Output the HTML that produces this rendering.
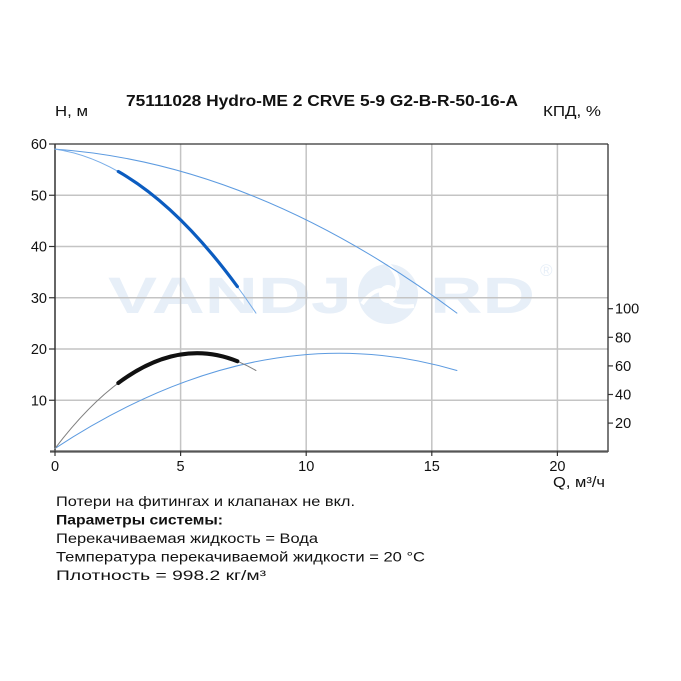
<!DOCTYPE html>
<html><head><meta charset="utf-8"><style>
html,body{margin:0;padding:0;background:#fff;}
svg{display:block;}
text{font-family:"Liberation Sans",sans-serif;fill:#111;}
</style></head><body>
<svg width="681" height="681" viewBox="0 0 681 681" xmlns="http://www.w3.org/2000/svg">
<rect x="0" y="0" width="681" height="681" fill="#fff"/>
<!-- watermark -->
<g fill="#e7eff8">
<text x="108" y="313" font-size="51" font-weight="bold" textLength="244" lengthAdjust="spacingAndGlyphs" style="fill:#e7eff8">VANDJ</text>
<text x="430" y="313" font-size="51" font-weight="bold" textLength="105" lengthAdjust="spacingAndGlyphs" style="fill:#e7eff8">RD</text>
<circle cx="388" cy="294" r="30"/>
<text x="540" y="276" font-size="17" style="fill:#e7eff8">®</text>
</g>
<g fill="none" stroke="#fff" stroke-width="4">
<circle cx="388" cy="294" r="9" fill="#fff" stroke="none"/>
<path d="M388 264 Q402 278 396 290"/>
<path d="M414 306 Q396 308 390 302"/>
<path d="M362 304 Q372 290 382 290"/>
</g>
<!-- grid -->
<g stroke="#c4c4c4" stroke-width="1.5">
<line x1="55" y1="195.25" x2="608" y2="195.25"/>
<line x1="55" y1="246.5" x2="608" y2="246.5"/>
<line x1="55" y1="297.75" x2="608" y2="297.75"/>
<line x1="55" y1="349" x2="608" y2="349"/>
<line x1="55" y1="400.25" x2="608" y2="400.25"/>
<line x1="180.6" y1="144" x2="180.6" y2="451.5"/>
<line x1="306.2" y1="144" x2="306.2" y2="451.5"/>
<line x1="431.8" y1="144" x2="431.8" y2="451.5"/>
<line x1="557.4" y1="144" x2="557.4" y2="451.5"/>
</g>
<!-- frame -->
<line x1="55" y1="144" x2="608" y2="144" stroke="#333" stroke-width="1.2"/>
<line x1="608" y1="144" x2="608" y2="452" stroke="#333" stroke-width="1.3"/>
<line x1="55" y1="144" x2="55" y2="452" stroke="#333" stroke-width="1.5"/>
<line x1="50" y1="451.5" x2="608" y2="451.5" stroke="#555" stroke-width="2.2"/>
<!-- ticks -->
<g stroke="#333" stroke-width="1.2">
<line x1="49" y1="144" x2="55" y2="144"/>
<line x1="49" y1="195.25" x2="55" y2="195.25"/>
<line x1="49" y1="246.5" x2="55" y2="246.5"/>
<line x1="49" y1="297.75" x2="55" y2="297.75"/>
<line x1="49" y1="349" x2="55" y2="349"/>
<line x1="49" y1="400.25" x2="55" y2="400.25"/>
<line x1="55" y1="451" x2="55" y2="456"/>
<line x1="180.6" y1="451" x2="180.6" y2="456"/>
<line x1="306.2" y1="451" x2="306.2" y2="456"/>
<line x1="431.8" y1="451" x2="431.8" y2="456"/>
<line x1="557.4" y1="451" x2="557.4" y2="456"/>
<line x1="608" y1="423.1" x2="613" y2="423.1"/>
<line x1="608" y1="394.5" x2="613" y2="394.5"/>
<line x1="608" y1="365.9" x2="613" y2="365.9"/>
<line x1="608" y1="337.3" x2="613" y2="337.3"/>
<line x1="608" y1="308.7" x2="613" y2="308.7"/>
</g>
<!-- curves -->
<g fill="none" stroke-linecap="round">
<path d="M55 149.125 Q255.96 163.35 456.92 313.10" stroke="#5d9be0" stroke-width="1"/>
<path d="M55 149.125 Q155.48 163.35 255.96 313.11" stroke="#7aaee8" stroke-width="1"/>
<path d="M55 448.41 C188.97 360.47 322.95 330.75 456.92 370.53" stroke="#5d9be0" stroke-width="1"/>
<path d="M55 448.41 C121.99 360.47 188.97 330.75 255.96 370.53" stroke="#808080" stroke-width="1"/>
<path d="M118.30 171.54 Q177.83 205.27 237.37 286.56" stroke="#0b5cc0" stroke-width="3.2"/>
<path d="M118.30 382.99 C157.99 353.28 197.68 345.25 237.37 361.26" stroke="#111" stroke-width="4"/>
</g>
<!-- labels -->
<g font-size="14.5">
<text x="47" y="149" text-anchor="end">60</text>
<text x="47" y="200.25" text-anchor="end">50</text>
<text x="47" y="251.5" text-anchor="end">40</text>
<text x="47" y="302.75" text-anchor="end">30</text>
<text x="47" y="354" text-anchor="end">20</text>
<text x="47" y="405.25" text-anchor="end">10</text>
<text x="55" y="471" text-anchor="middle">0</text>
<text x="180.6" y="471" text-anchor="middle">5</text>
<text x="306.2" y="471" text-anchor="middle">10</text>
<text x="431.8" y="471" text-anchor="middle">15</text>
<text x="557.4" y="471" text-anchor="middle">20</text>
<text x="615" y="428.1">20</text>
<text x="615" y="399.5">40</text>
<text x="615" y="370.9">60</text>
<text x="615" y="342.3">80</text>
<text x="615" y="313.7">100</text>
<text x="553" y="487" textLength="52" lengthAdjust="spacingAndGlyphs">Q, м³/ч</text>
<text x="55" y="116" textLength="33" lengthAdjust="spacingAndGlyphs">H, м</text>
<text x="543" y="116" textLength="58" lengthAdjust="spacingAndGlyphs">КПД, %</text>
</g>
<text x="126" y="106" font-size="16" font-weight="bold" textLength="392" lengthAdjust="spacingAndGlyphs">75111028 Hydro-ME 2 CRVE 5-9 G2-B-R-50-16-A</text>
<g font-size="14">
<text x="56" y="506" textLength="299" lengthAdjust="spacingAndGlyphs">Потери на фитингах и клапанах не вкл.</text>
<text x="56" y="524.5" font-weight="bold" textLength="167" lengthAdjust="spacingAndGlyphs">Параметры системы:</text>
<text x="56" y="543" textLength="262" lengthAdjust="spacingAndGlyphs">Перекачиваемая жидкость = Вода</text>
<text x="56" y="561.5" textLength="369" lengthAdjust="spacingAndGlyphs">Температура перекачиваемой жидкости = 20 °C</text>
<text x="56" y="580" font-size="13.5" textLength="210" lengthAdjust="spacingAndGlyphs">Плотность = 998.2 кг/м³</text>
</g>
</svg>
</body></html>
